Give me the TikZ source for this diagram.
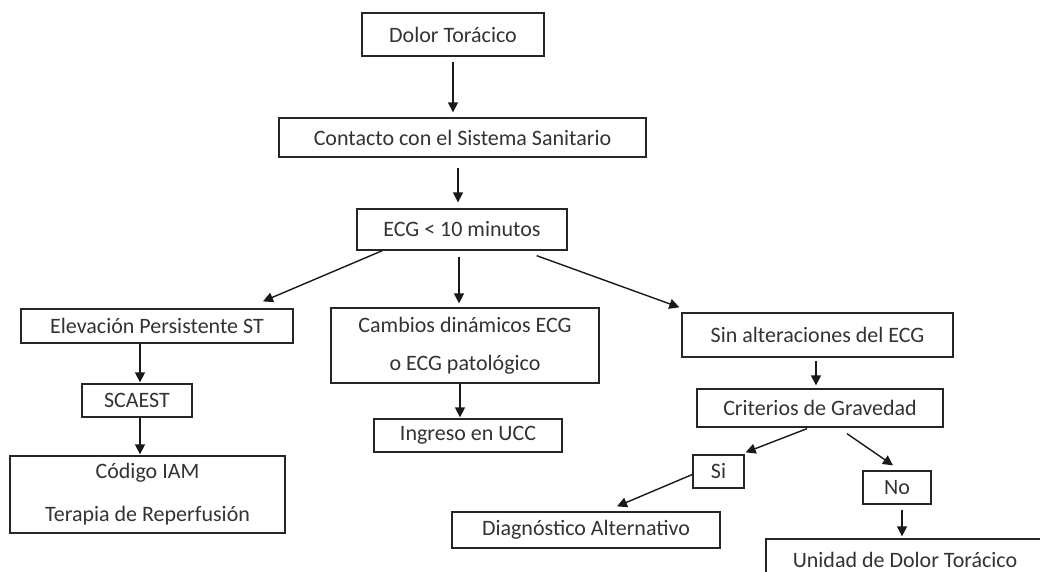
\documentclass[tikz,border=0pt]{standalone}
\usepackage{fontspec}
\setmainfont{Carlito}
\usetikzlibrary{arrows.meta,calc}
\begin{document}
\begin{tikzpicture}[x=1pt,y=-1pt,
  box/.style={draw=black!85,line width=1.3pt,inner sep=0pt,text=black!80,
    font=\fontsize{22}{26}\selectfont,align=center},
  arr/.style={line width=1.4pt,draw=black!90,-{Triangle[length=10pt,width=10pt]}}]
\useasboundingbox (0,0) rectangle (1040,572);
\clip (0,0) rectangle (1040,572);
\fill[white] (0,0) rectangle (1040,572);
\node[box,minimum width=182pt,minimum height=43pt] (dolor) at (453,34.5) {Dolor Torácico};
\node[box,minimum width=367pt,minimum height=39pt] (contacto) at (462.5,137.5) {Contacto con el Sistema Sanitario};
\node[box,minimum width=210pt,minimum height=41pt] (ecg) at (462,229.5) {ECG < 10 minutos};
\node[box,minimum width=272pt,minimum height=34pt] (elev) at (157,326) {Elevación Persistente ST};
\node[box,minimum width=110pt,minimum height=33pt] (scaest) at (137,400.5) {SCAEST};
\node[box,minimum width=275pt,minimum height=77pt,font=\fontsize{22}{43}\selectfont] (codigo) at (147.5,494.5) {Código IAM\\Terapia de Reperfusión};
\node[box,minimum width=268pt,minimum height=75pt,font=\fontsize{22}{38}\selectfont] (cambios) at (465,345.5) {Cambios dinámicos ECG\\o ECG patológico};
\node[box,minimum width=188pt,minimum height=33pt] (ingreso) at (468,435.5) {Ingreso en UCC};
\node[box,minimum width=271pt,minimum height=44pt] (sin) at (817.5,335) {Sin alteraciones del ECG};
\node[box,minimum width=246pt,minimum height=38pt] (criterios) at (820,408) {Criterios de Gravedad};
\node[box,minimum width=51pt,minimum height=33pt] (si) at (718.5,471.5) {Si};
\node[box,minimum width=68pt,minimum height=33pt] (no) at (897,487.5) {No};
\node[box,minimum width=268pt,minimum height=36pt] (diag) at (586,530) {Diagnóstico Alternativo};
\node[box,minimum width=278pt,minimum height=42pt] (unidad) at (905,560) {Unidad de Dolor Torácico};
% connectors
\draw[arr] ($(dolor.south)+(0,5)$) -- ($(dolor.south |- contacto.north)+(0,-5)$);
\draw[arr] ($(contacto.south)+(-4.5,10)$) -- ($(contacto.south |- ecg.north)+(-4.5,-6)$);
\draw[arr] ($(ecg.south west)+(26,0)$) -- ($(elev.north)+(106,-7)$);
\draw[arr] ($(ecg.south)+(-3,6)$) -- ($(ecg.south |- cambios.north)+(-3,-4)$);
\draw[arr] ($(ecg.south east)+(-31,5)$) -- ($(sin.north west)+(-2,-5)$);
\draw[arr] ($(elev.south)+(-17,0)$) -- ($(scaest.north)+(3,-1)$);
\draw[arr] ($(scaest.south)+(3,0)$) -- ($(codigo.north)+(-7.5,-1)$);
\draw[arr] ($(cambios.south)+(-5,0)$) -- ($(ingreso.north)+(-8,-1)$);
\draw[arr] ($(sin.south)+(-1.5,3)$) -- ($(criterios.north)+(-4,-3)$);
\draw[arr] ($(criterios.south)+(-13,1)$) -- ($(si.north east)+(1,-2)$);
\draw[arr] ($(criterios.south)+(27,6)$) -- ($(no.north)+(-4,-5)$);
\draw[arr] ($(si.west)+(0,3)$) -- ($(diag.north)+(31,-5)$);
\draw[arr] ($(no.south)+(5,5)$) -- ($(unidad.north)+(-3,-2)$);
\end{tikzpicture}
\end{document}
